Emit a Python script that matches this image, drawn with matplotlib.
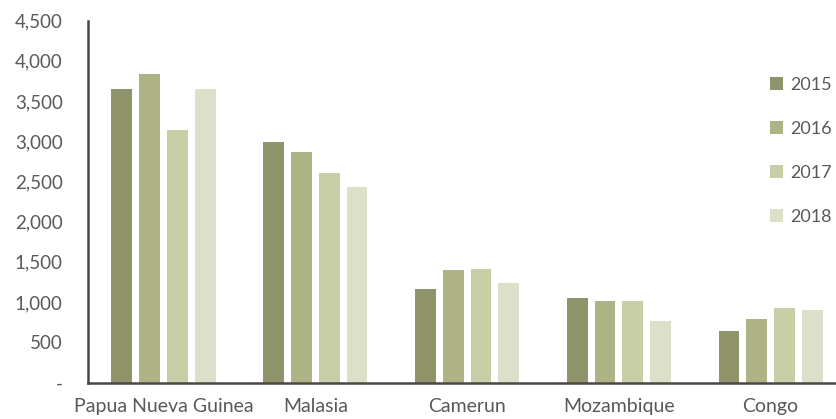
import matplotlib.pyplot as plt
import numpy as np
from matplotlib.ticker import FuncFormatter

plt.rcParams['font.family'] = ['Lato', 'DejaVu Sans']

# Datos
paises = ['Papua Nueva Guinea', 'Malasia', 'Camerun', 'Mozambique', 'Congo']
anios = ['2015', '2016', '2017', '2018']
v2015 = [3650, 2990, 1160, 1045, 645]
v2016 = [3840, 2860, 1395, 1010, 790]
v2017 = [3140, 2610, 1410, 1010, 930]
v2018 = [3650, 2435, 1235, 760, 905]
valores = [v2015, v2016, v2017, v2018]

colores = ['#8f946b', '#adb385', '#c8cea6', '#dce0c8']
gris = '#595959'

fig = plt.figure(figsize=(8.36, 4.19), dpi=100)
ax = fig.add_axes([0.1049, 0.0871, 0.9077, 0.8639])

x = np.arange(len(paises))
ancho = 0.138
paso = 0.183
for i, (serie, c) in enumerate(zip(valores, colores)):
    ax.bar(x + (i - 1.5) * paso, serie, width=ancho, color=c, label=anios[i])

ax.set_xlim(-0.5, len(paises) - 0.5)
ax.set_ylim(0, 4500)
ax.set_yticks(np.arange(0, 4501, 500))
ax.yaxis.set_major_formatter(FuncFormatter(lambda v, p: '-' if v == 0 else f'{int(v):,}'))
ax.set_xticks(x)
ax.set_xticklabels(paises)

for s in ['top', 'right']:
    ax.spines[s].set_visible(False)
for s in ['left', 'bottom']:
    ax.spines[s].set_color('#4d4646')
    ax.spines[s].set_linewidth(1.8)

ax.tick_params(axis='y', length=0, pad=18, labelsize=13.5, labelcolor=gris)
ax.tick_params(axis='x', length=0, pad=11, labelsize=14, labelcolor=gris)

fig.legend(loc='upper left', bbox_to_anchor=(0.921, 0.816), frameon=False,
           fontsize=13, labelcolor=gris, handlelength=0.7, handleheight=0.7,
           handletextpad=0.4, labelspacing=1.55, borderaxespad=0, borderpad=0)

fig.savefig('out.png', dpi=100)
